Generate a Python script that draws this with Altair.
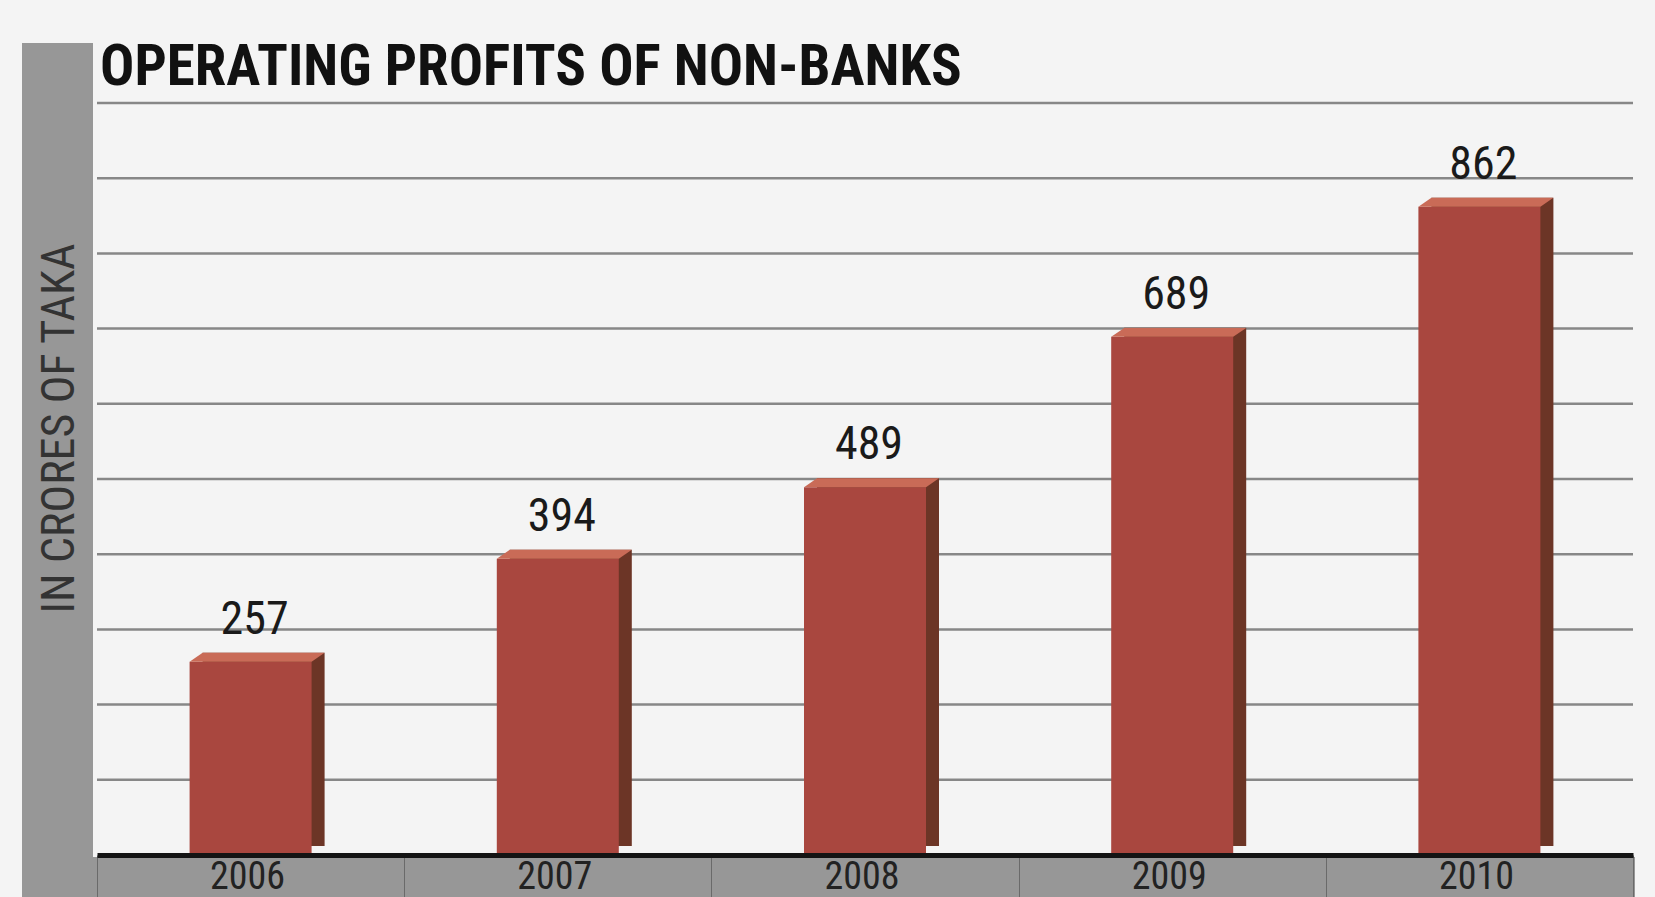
import altair as alt
import pandas as pd

# ---- data ----
years = ["2006", "2007", "2008", "2009", "2010"]
profits = [257, 394, 489, 689, 862]
grid_values = [100, 200, 300, 400, 500, 600, 700, 800, 900, 1000]

title_text = "OPERATING PROFITS OF NON-BANKS"
y_title = "IN CRORES OF TAKA"

df = pd.DataFrame({"year": years, "profit": profits})
grid_df = pd.DataFrame({"profit": grid_values})
title_df = pd.DataFrame({"t": [title_text]})
one = pd.DataFrame({"k": [0]})

# ---- style ----
W, H = 1536, 752
BAR_W = 122
FONT = "Roboto Condensed, Open Sans Condensed, DejaVu Sans Condensed, sans-serif"
BG = "#f4f4f4"
BAND = "#979797"
FRONT = "#a9473f"
SIDE = "#6c3526"
TOP = "#c96b57"

x_scale = alt.Scale(paddingInner=0, paddingOuter=0)
x_enc = alt.X(
    "year:N",
    sort=years,
    scale=x_scale,
    axis=alt.Axis(
        title=None,
        zindex=1,
        domainColor="#141414",
        domainWidth=5,
        ticks=True,
        tickBand="extent",
        tickSize=42,
        tickColor="#6a6a6a",
        tickWidth=1,
        labels=False,
        grid=False,
    ),
)

y_scale = alt.Scale(domain=[0, 1000], nice=False, zero=True)
y_axis = alt.Axis(
    title=y_title,
    zindex=1,
    grid=False,
    labels=False,
    ticks=False,
    domain=False,
    titleFont=FONT,
    titleFontSize=46,
    titleFontWeight="normal",
    titleColor="#333333",
    titleAngle=270,
    titleAlign="center",
    titleBaseline="alphabetic",
    titleX=-24,
    titleY=325,
)

# decorative grey frame (left band + bottom strip)
left_band = alt.Chart(one).mark_rect(color=BAND).encode(
    x=alt.value(-75), x2=alt.value(-4), y=alt.value(-60), y2=alt.value(H + 42)
)
bottom_band = alt.Chart(one).mark_rect(color=BAND).encode(
    x=alt.value(-75), x2=alt.value(W + 2), y=alt.value(H + 2), y2=alt.value(H + 42)
)

title = alt.Chart(title_df).mark_text(
    font=FONT, fontSize=57, fontWeight="bold", color="#111111",
    align="left", baseline="alphabetic",
).encode(text="t:N", x=alt.value(3), y=alt.value(-18))

gridlines = alt.Chart(grid_df).mark_rule(color="#878787", strokeWidth=2.5).encode(
    y=alt.Y("profit:Q", scale=y_scale, axis=y_axis)
)

base = alt.Chart(df).encode(
    x=x_enc, y=alt.Y("profit:Q", scale=y_scale, axis=y_axis)
)

side = base.mark_bar(
    color=SIDE, width=BAR_W, xOffset=13, yOffset=-9, y2Offset=-4
)
front = base.mark_bar(color=FRONT, width=BAR_W)
top = base.mark_point(
    shape="M -1 0 L 1 0 L 1.2131 -0.1475 L -0.7869 -0.1475 Z",
    size=BAR_W * BAR_W,
    filled=True,
    opacity=1,
    color=TOP,
    strokeWidth=0,
)
labels = base.mark_text(
    font=FONT, fontSize=46, color="#1a1a1a", baseline="alphabetic", dy=-28, dx=4
).encode(text="profit:Q")

year_labels = alt.Chart(df).mark_text(
    font=FONT, fontSize=38, color="#222222", baseline="alphabetic", dx=-3
).encode(x=alt.X("year:N", sort=years, scale=x_scale), y=alt.value(H + 34), text="year:N")

chart = (
    alt.layer(left_band, bottom_band, title, gridlines, side, front, top, labels, year_labels)
    .properties(
        width=W,
        height=H,
        autosize=alt.AutoSizeParams(type="none"),
        padding={"left": 97, "top": 103, "right": 22, "bottom": 42},
        background=BG,
    )
    .configure_view(stroke=None, fill=BG)
)

chart.save("out.html", embed_options={"renderer": "svg", "actions": False})
